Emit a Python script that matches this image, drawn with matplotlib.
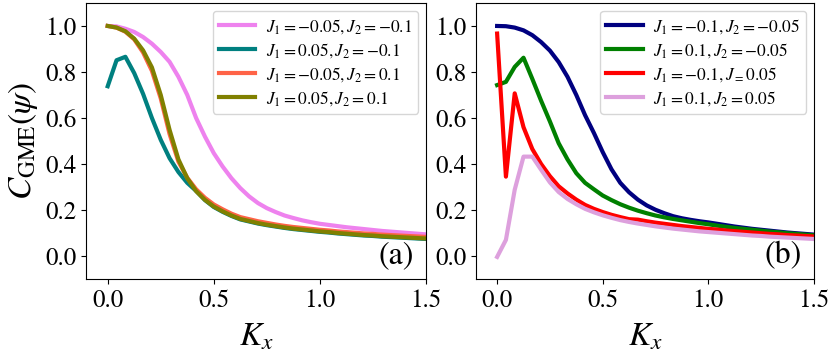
import numpy as np
import matplotlib
matplotlib.use("Agg")
import matplotlib.pyplot as plt

plt.rcParams['font.family'] = ['STIXGeneral', 'DejaVu Serif']
plt.rcParams['mathtext.fontset'] = 'stix'

# Kx grid (37 samples from 0 to 1.5)
kx = np.linspace(0, 1.5, 37)

# ---- panel (a) ----
labels_a = [r'$J_1=-0.05,J_2=-0.1$', r'$J_1=0.05,J_2=-0.1$',
            r'$J_1=-0.05,J_2=0.1$', r'$J_1=0.05,J_2=0.1$']
colors_a = ['violet', 'teal', 'tomato', 'olive']

violet_a = [1.000, 0.998, 0.988, 0.974, 0.952, 0.923, 0.887, 0.844, 0.779, 0.700,
            0.600, 0.519, 0.447, 0.389, 0.338, 0.295, 0.259, 0.230, 0.208, 0.191,
            0.176, 0.165, 0.155, 0.147, 0.140, 0.135, 0.130, 0.125, 0.121, 0.117,
            0.113, 0.109, 0.106, 0.103, 0.100, 0.097, 0.094]
teal_a = [0.738, 0.851, 0.866, 0.795, 0.705, 0.600, 0.505, 0.425, 0.365, 0.318,
          0.283, 0.243, 0.213, 0.192, 0.174, 0.159, 0.150, 0.141, 0.134, 0.128,
          0.122, 0.117, 0.113, 0.109, 0.105, 0.102, 0.098, 0.095, 0.092, 0.089,
          0.087, 0.084, 0.082, 0.080, 0.078, 0.076, 0.074]
tomato_a = [1.000, 0.993, 0.975, 0.942, 0.885, 0.805, 0.685, 0.530, 0.410, 0.340,
            0.290, 0.253, 0.224, 0.203, 0.184, 0.169, 0.160, 0.151, 0.144, 0.137,
            0.131, 0.126, 0.122, 0.118, 0.114, 0.111, 0.107, 0.104, 0.101, 0.098,
            0.096, 0.093, 0.091, 0.089, 0.087, 0.085, 0.083]
olive_a = [1.000, 0.993, 0.977, 0.945, 0.894, 0.820, 0.700, 0.548, 0.420, 0.338,
           0.282, 0.244, 0.215, 0.194, 0.176, 0.161, 0.152, 0.143, 0.136, 0.130,
           0.124, 0.119, 0.115, 0.111, 0.107, 0.104, 0.100, 0.097, 0.094, 0.091,
           0.089, 0.086, 0.084, 0.082, 0.080, 0.078, 0.076]

# ---- panel (b) ----
labels_b = [r'$J_1=-0.1,J_2=-0.05$', r'$J_1=0.1,J_2=-0.05$',
            r'$J_1=-0.1,J_=0.05$', r'$J_1=0.1,J_2=0.05$']
colors_b = ['navy', 'green', 'red', 'plum']

navy_b = [1.000, 0.999, 0.993, 0.981, 0.960, 0.930, 0.893, 0.843, 0.779, 0.700,
          0.612, 0.535, 0.452, 0.377, 0.318, 0.277, 0.245, 0.220, 0.201, 0.186,
          0.173, 0.164, 0.157, 0.151, 0.146, 0.140, 0.134, 0.128, 0.123, 0.118,
          0.114, 0.110, 0.106, 0.102, 0.099, 0.096, 0.093]
green_b = [0.743, 0.757, 0.822, 0.862, 0.770, 0.675, 0.585, 0.490, 0.420, 0.360,
           0.318, 0.290, 0.263, 0.243, 0.225, 0.210, 0.197, 0.186, 0.176, 0.168,
           0.161, 0.155, 0.149, 0.143, 0.138, 0.132, 0.127, 0.122, 0.118, 0.114,
           0.110, 0.106, 0.103, 0.099, 0.096, 0.093, 0.090]
red_b = [0.967, 0.345, 0.707, 0.560, 0.465, 0.400, 0.347, 0.303, 0.272, 0.245,
         0.222, 0.205, 0.191, 0.179, 0.169, 0.160, 0.158, 0.151, 0.145, 0.140,
         0.135, 0.130, 0.126, 0.122, 0.118, 0.115, 0.111, 0.108, 0.105, 0.102,
         0.099, 0.096, 0.094, 0.091, 0.089, 0.087, 0.085]
plum_b = [-0.004, 0.070, 0.288, 0.432, 0.432, 0.375, 0.320, 0.278, 0.248, 0.225,
          0.205, 0.190, 0.177, 0.166, 0.156, 0.148, 0.141, 0.135, 0.129, 0.124,
          0.119, 0.115, 0.111, 0.107, 0.104, 0.101, 0.098, 0.095, 0.092, 0.089,
          0.087, 0.084, 0.082, 0.080, 0.078, 0.076, 0.074]

series_a = [violet_a, teal_a, tomato_a, olive_a]
series_b = [navy_b, green_b, red_b, plum_b]

fig = plt.figure(figsize=(8.3, 3.54), dpi=100)
ax1 = fig.add_axes([0.1042, 0.2119, 0.409, 0.7797])
ax2 = fig.add_axes([0.5735, 0.2119, 0.407, 0.7797])

for ax, series, labels, colors, tag in [(ax1, series_a, labels_a, colors_a, '(a)'),
                                        (ax2, series_b, labels_b, colors_b, '(b)')]:
    for y, lab, c in zip(series, labels, colors):
        ax.plot(kx, y, color=c, lw=3, label=lab)
    ax.set_xlim(-0.1, 1.5)
    ax.set_ylim(-0.1, 1.1)
    ax.set_xticks([0.0, 0.5, 1.0, 1.5])
    ax.set_yticks([0.0, 0.2, 0.4, 0.6, 0.8, 1.0])
    ax.tick_params(labelsize=18)
    ax.set_xlabel(r'$K_x$', fontsize=24, labelpad=7)
    ax.legend(loc='upper right', fontsize=12.5, handlelength=2.1,
              labelspacing=0.3, borderpad=0.35, handletextpad=0.6,
              borderaxespad=0.45)
    ax.text(0.963, 0.03, tag, transform=ax.transAxes, ha='right', va='bottom',
            fontsize=23)

ax1.set_ylabel(r'$C_{\mathrm{GME}}(\psi)$', fontsize=24)

fig.savefig('out.png', dpi=100)
